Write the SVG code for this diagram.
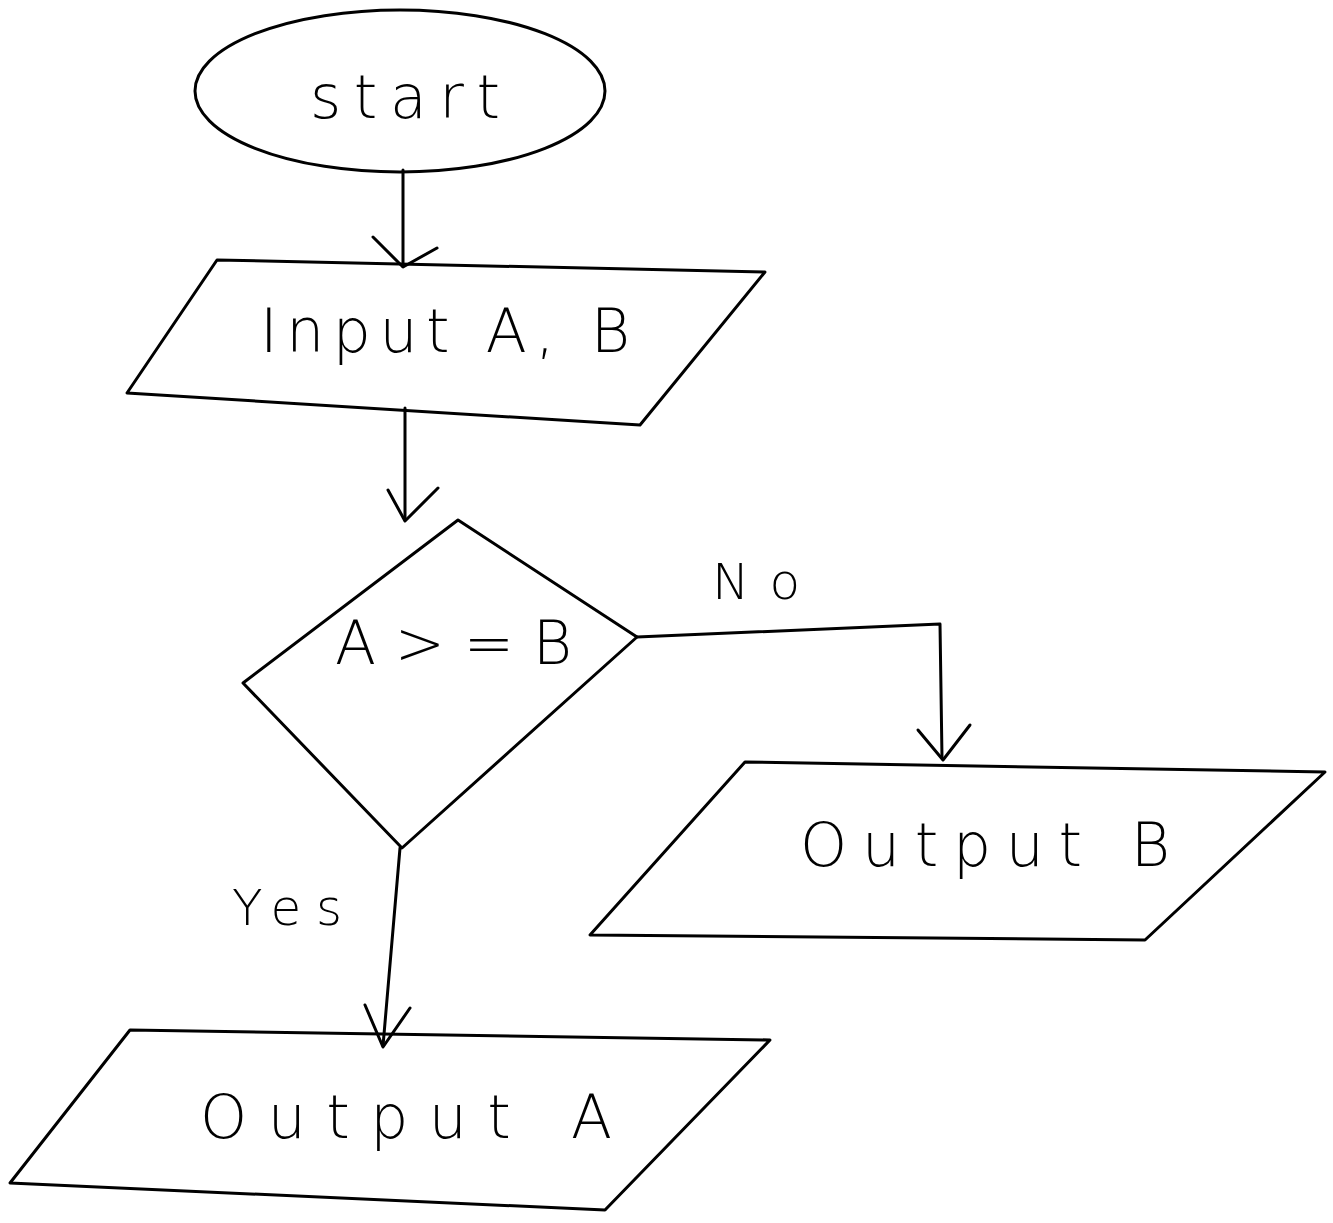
<svg xmlns="http://www.w3.org/2000/svg" width="1333" height="1223" viewBox="0 0 1333 1223">
<style>
.s{fill:#fff;stroke:#000;stroke-width:3;stroke-linejoin:round;stroke-linecap:round}
.c{fill:none;stroke:#000;stroke-width:3;stroke-linecap:round;stroke-linejoin:round}
.t{font-family:"DejaVu Sans","Liberation Sans",sans-serif;font-size:60px;font-weight:200;fill:#000}
.l{font-family:"DejaVu Sans","Liberation Sans",sans-serif;font-size:50px;font-weight:200;fill:#000}
</style>
<rect width="1333" height="1223" fill="#fff"/>
<g id="start">
<ellipse class="s" cx="400" cy="91" rx="205" ry="81"/>
<text class="t" x="310" y="118" textLength="190" lengthAdjust="spacing">start</text>
</g>
<g id="input">
<polygon class="s" points="217,260 765,272 640,425 127,393"/>
<text class="t" x="260" y="352" textLength="370" lengthAdjust="spacing">Input A, B</text>
</g>
<g id="decision">
<polygon class="s" points="458,520 637,637 402,848 243,683"/>
<text class="t" x="335" y="664" textLength="237" lengthAdjust="spacing">A&gt;=B</text>
</g>
<g id="outputB">
<polygon class="s" points="745,762 1325,772 1145,940 590,935"/>
<text class="t" x="800" y="866" textLength="370" lengthAdjust="spacing">Output B</text>
</g>
<g id="outputA">
<polygon class="s" points="130,1030 770,1040 605,1210 10,1183"/>
<text class="t" x="200" y="1138" textLength="412" lengthAdjust="spacing">Output A</text>
</g>
<g id="connectors">
<path class="c" d="M403,170 L403,266"/>
<path class="c" d="M373,237 L403,267 L437,248"/>
<path class="c" d="M405,408 L405,520"/>
<path class="c" d="M388,490 L405,521 L438,488"/>
<path class="c" d="M637,637 L940,624 L942,758"/>
<path class="c" d="M918,730 L943,760 L970,725"/>
<path class="c" d="M400,848 L383,1046"/>
<path class="c" d="M365,1005 L383,1047 L410,1008"/>
<text class="l" x="712" y="599" textLength="88" lengthAdjust="spacing">No</text>
<text class="l" x="232" y="925" textLength="110" lengthAdjust="spacing">Yes</text>
</g>
</svg>
